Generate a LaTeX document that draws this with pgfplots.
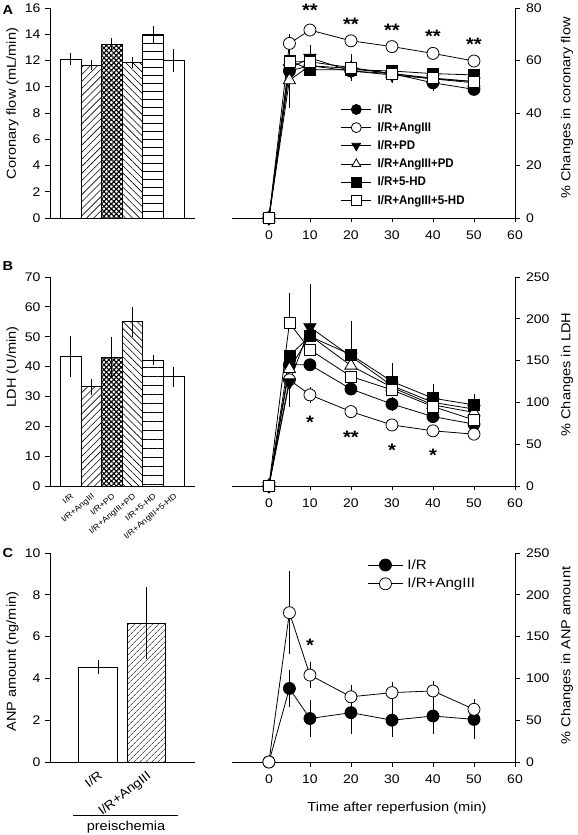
\documentclass[border=0pt]{standalone}
\usepackage{fontspec}
\setmainfont{Liberation Sans}[FakeStretch=1.12]
\newfontfamily\legfont{Liberation Sans}[FakeStretch=0.92]
\usepackage{pgfplots}
\pgfplotsset{compat=1.18}
\usetikzlibrary{patterns.meta}
\newcommand{\fs}[1]{\fontsize{#1}{#1}\selectfont}
\pgfplotsset{
  base/.style={scale only axis, clip=false,
    axis line style={line width=0.8pt},
    tick style={black, line width=0.8pt},
    tick align=outside, major tick length=5pt,
    /pgf/number format/assume math mode=true,
    tick label style={font=\fs{12.5}},
  },
  leftax/.style={base, axis x line*=bottom, axis y line*=left, width=145pt, every x tick/.style={draw=none},
    x axis line style={shorten <=-5pt}, yticklabel shift=1pt},
  rightax/.style={base, axis x line*=bottom, axis y line*=right, width=283pt, xmin=-9, xmax=60, xtick={0,10,...,60}, ymin=0,
    xticklabel shift=5pt, yticklabel shift=3pt, major tick length=4.5pt},
  lyl/.style={ylabel style={at={([xshift=-37.5pt]axis description cs:0,#1)}, anchor=center}},
  ryl/.style={ylabel style={at={([xshift=52pt]axis description cs:1,#1)}, anchor=center}},
  ebar/.style={mark=none, draw=none, forget plot, error bars/.cd, y dir=both, y explicit, error mark=none, error bar style={draw=black, solid, line width=0.8pt}},
  bars/.style={ybar, bar width=1, bar shift=0pt, draw=black, line width=0.8pt, forget plot},
  ln/.style={black, line width=0.8pt},
  fc/.style={ln, mark=*, mark size=6pt, mark options={fill=black}},
  oc/.style={ln, mark=*, mark size=6pt, mark options={fill=white}},
  ftd/.style={ln, mark=triangle*, mark size=7pt, mark options={fill=black, rotate=180}},
  otu/.style={ln, mark=triangle*, mark size=7pt, mark options={fill=white}},
  fsq/.style={ln, mark=square*, mark size=5.5pt, mark options={fill=black}},
  osq/.style={ln, mark=square*, mark size=5.5pt, mark options={fill=white}},
  legimgA/.style={legend image code/.code={\draw[mark repeat=2,mark phase=2,mark size=5pt,##1] plot coordinates {(0pt,0pt) (15pt,0pt) (30pt,0pt)};\path (34pt,0pt);}},
  legimgC/.style={legend image code/.code={\draw[mark repeat=2,mark phase=2,##1] plot coordinates {(0pt,0pt) (17.5pt,0pt) (35pt,0pt)};\path (37pt,0pt);}},
}
\newcommand{\lA}{\legfont\bfseries\fs{12.5}}
\newcommand{\lab}{\fs{13}}
\begin{document}
\begin{tikzpicture}
\path[use as bounding box] (0,0) rectangle (578pt,835pt);
\node[font=\bfseries\fs{13}] at (8pt,825pt) {A};
\node[font=\bfseries\fs{13}] at (8pt,569pt) {B};
\node[font=\bfseries\fs{13}] at (8pt,282pt) {C};
% ---------------- A left
\begin{axis}[leftax, at={(50pt,617pt)}, anchor=south west, height=210pt,
  xmin=0, xmax=7.03, ymin=0, ymax=16, ytick={0,2,...,16}, xtick=\empty,
  ylabel={\lab Coronary flow (mL/min)}, lyl=0.545]
\addplot[bars, fill=white] coordinates {(1,12.1)};
\addplot[bars, pattern={Lines[angle=45,distance=5pt,line width=0.6pt]}] coordinates {(2,11.65)};
\addplot[bars, pattern={Hatch[angle=45,distance=3.5pt,line width=1.1pt]}] coordinates {(3,13.25)};
\addplot[bars, pattern={Lines[angle=-45,distance=5pt,line width=0.6pt]}] coordinates {(4,11.85)};
\addplot[bars, pattern={Lines[angle=0,distance=8pt,line width=0.7pt]}] coordinates {(5,14.0)};
\addplot[bars, fill=white] coordinates {(6,12.0)};
\addplot[ebar] coordinates {(1,12.1)+-(0,0.45) (2,11.65)+-(0,0.35) (3,13.25)+-(0,0.5) (4,11.85)+-(0,0.45) (5,14.0)+-(0,0.65) (6,12.0)+-(0,0.85)};
\end{axis}
% ---------------- A right
\begin{axis}[rightax, at={(232pt,617pt)}, anchor=south west, height=210pt,
  ymax=80, ytick={0,20,...,80},
  ylabel={\lab\% Changes in coronary flow}, ryl=0.524, legimgA,
  legend style={at={(axis cs:17.5,44.2)}, anchor=north west, draw=none, fill=none, row sep=3.6pt, inner sep=0pt, cells={anchor=west}}]
\addplot[ebar] coordinates {(5,56)+-(0,14) (10,58)+-(0,4) (20,56)+-(0,3) (30,55)+-(0,3) (40,51.5)+-(0,3) (50,49)+-(0,2.5)};
\addplot[ebar] coordinates {(5,66.5)+-(0,3) (10,71.6)+-(0,2) (20,67.5)+-(0,2) (30,65.3)+-(0,2) (40,62.7)+-(0,2) (50,59.8)+-(0,2)};
\addplot[ebar] coordinates {(5,57)+-(0,4) (10,61)+-(0,5) (20,56)+-(0,3) (30,54.5)+-(0,3) (40,53)+-(0,3) (50,52)+-(0,3)};
\addplot[ebar] coordinates {(5,59.5)+-(0,4) (10,59.5)+-(0,3) (20,57.3)+-(0,5) (30,55)+-(0,3) (40,53.3)+-(0,3) (50,52)+-(0,3)};
\addplot[fc] coordinates {(0,0)(5,56)(10,58)(20,56)(30,55)(40,51.5)(50,49)};
\addlegendentry{\lA I/R}
\addplot[oc] coordinates {(0,0)(5,66.5)(10,71.6)(20,67.5)(30,65.3)(40,62.7)(50,59.8)};
\addlegendentry{\lA I/R+AngIII}
\addplot[ftd] coordinates {(0,0)(5,57)(10,61)(20,56)(30,54.5)(40,53)(50,52)};
\addlegendentry{\lA I/R+PD}
\addplot[otu] coordinates {(0,0)(5,52.5)(10,58)(20,57)(30,55)(40,53)(50,51.5)};
\addlegendentry{\lA I/R+AngIII+PD}
\addplot[fsq] coordinates {(0,0)(5,60)(10,56.5)(20,56.5)(30,56)(40,55)(50,54.5)};
\addlegendentry{\lA I/R+5-HD}
\addplot[osq] coordinates {(0,0)(5,59.5)(10,59.5)(20,57.3)(30,55)(40,53.3)(50,52)};
\addlegendentry{\lA I/R+AngIII+5-HD}
\node[font=\bfseries\fs{18}, anchor=base] at (axis cs:10,76.8) {**};
\node[font=\bfseries\fs{18}, anchor=base] at (axis cs:20,71.6) {**};
\node[font=\bfseries\fs{18}, anchor=base] at (axis cs:30,69.2) {**};
\node[font=\bfseries\fs{18}, anchor=base] at (axis cs:40,66.8) {**};
\node[font=\bfseries\fs{18}, anchor=base] at (axis cs:50,63.7) {**};
\end{axis}
% ---------------- B left
\begin{axis}[leftax, at={(50pt,349pt)}, anchor=south west, height=209pt,
  xmin=0, xmax=7.03, ymin=0, ymax=70, ytick={0,10,...,70},
  xtick={1,...,6}, xticklabels={I/R, I/R+AngIII, I/R+PD, I/R+AngIII+PD, I/R+5-HD, I/R+AngIII+5-HD},
  xticklabel style={rotate=40, anchor=north east, font=\fs{8}, inner sep=1pt},
  ylabel={\lab LDH (U/min)}, lyl=0.57]
\addplot[bars, fill=white] coordinates {(1,43.3)};
\addplot[bars, pattern={Lines[angle=45,distance=5pt,line width=0.6pt]}] coordinates {(2,33.2)};
\addplot[bars, pattern={Hatch[angle=45,distance=3.5pt,line width=1.1pt]}] coordinates {(3,43.1)};
\addplot[bars, pattern={Lines[angle=-45,distance=5pt,line width=0.6pt]}] coordinates {(4,55)};
\addplot[bars, pattern={Lines[angle=0,distance=9pt,line width=0.7pt]}] coordinates {(5,42.2)};
\addplot[bars, fill=white] coordinates {(6,36.6)};
\addplot[ebar] coordinates {(1,43.3)+-(0,6.8) (2,33.2)+-(0,2.8) (3,43.1)+-(0,6.7) (4,55)+-(0,5) (5,42.2)+-(0,1.7) (6,36.6)+-(0,3.4)};
\end{axis}
% ---------------- B right
\begin{axis}[rightax, at={(232pt,349pt)}, anchor=south west, height=209pt,
  ymax=250, ytick={0,50,...,250},
  ylabel={\lab\% Changes in LDH}, ryl=0.533]
\addplot[ebar] coordinates {(5,195)+=(0,36)-=(0,0) (5,124)+=(0,0)-=(0,30) (10,190)+=(0,52)-=(0,0) (20,157)+=(0,40)-=(0,0) (30,125)+=(0,22)-=(0,0) (40,105)+=(0,17)-=(0,0) (50,97)+=(0,13)-=(0,0)};
\addplot[ebar] coordinates {(10,109)+-(0,10) (20,116)+-(0,6) (30,98)+-(0,8) (40,83)+-(0,6)};
\addplot[fc] coordinates {(0,0)(5,145)(10,145)(20,116)(30,98)(40,83)(50,74)};
\addplot[oc] coordinates {(0,0)(5,127)(10,109)(20,89)(30,73)(40,66)(50,62)};
\addplot[ftd] coordinates {(0,0)(5,124)(10,190)(20,155)(30,120)(40,100)(50,92)};
\addplot[otu] coordinates {(0,0)(5,140)(10,180)(20,144)(30,118)(40,97)(50,88)};
\addplot[fsq] coordinates {(0,0)(5,156)(10,179)(20,157)(30,125)(40,105)(50,97)};
\addplot[osq] coordinates {(0,0)(5,195)(10,163)(20,131)(30,115)(40,95)(50,79)};
\node[font=\bfseries\fs{18}, anchor=base] at (axis cs:10,69) {*};
\node[font=\bfseries\fs{18}, anchor=base] at (axis cs:20,51) {**};
\node[font=\bfseries\fs{18}, anchor=base] at (axis cs:30,35) {*};
\node[font=\bfseries\fs{18}, anchor=base] at (axis cs:40,29) {*};
\end{axis}
% ---------------- C left
\begin{axis}[leftax, at={(50pt,73pt)}, anchor=south west, height=209pt,
  xmin=-0.247, xmax=3.52, ymin=0, ymax=10, ytick={0,2,...,10},
  xtick={1,2.26}, xticklabels={I/R, I/R+AngIII},
  xticklabel style={rotate=38, anchor=north east, font=\fs{12.5}, inner sep=2pt},
  ylabel={\lab ANP amount (ng/min)}, lyl=0.48]
\addplot[bars, fill=white] coordinates {(1,4.55)};
\addplot[bars, pattern={Lines[angle=45,distance=4pt,line width=0.6pt]}] coordinates {(2.26,6.65)};
\addplot[ebar] coordinates {(1,4.55)+-(0,0.35) (2.26,6.65)+-(0,1.72)};
\end{axis}
\draw[line width=0.8pt] (73pt,20pt) -- (178pt,20pt);
\node[font=\fs{13}] at (126pt,8pt) {preischemia};
% ---------------- C right
\begin{axis}[rightax, at={(232pt,73pt)}, anchor=south west, height=209pt,
  ymax=250, ytick={0,50,...,250},
  ylabel={\lab\% Changes in ANP amount}, ryl=0.51,
  xlabel={\lab Time after reperfusion (min)},
  xlabel style={at={(axis description cs:0.583,0)}, anchor=center, yshift=-46pt},
  legimgC,
  legend style={at={(axis cs:24,245)}, anchor=north west, draw=none, fill=none, row sep=3.5pt, inner sep=0pt, cells={anchor=west}}]
\addplot[ebar] coordinates {(5,178.6)+-(0,50) (10,104)+-(0,16) (20,78)+-(0,14) (30,83)+-(0,13) (40,85)+-(0,12) (50,63)+-(0,12)};
\addplot[ebar] coordinates {(5,88)+-(0,22) (10,52)+-(0,22) (20,59)+-(0,25) (30,50)+-(0,20) (40,55)+-(0,21) (50,51)+-(0,23)};
\addplot[fc] coordinates {(0,0)(5,88)(10,52)(20,59)(30,50)(40,55)(50,51)};
\addlegendentry{\fs{13.5}I/R}
\addplot[oc] coordinates {(0,0)(5,178.6)(10,104)(20,78)(30,83)(40,85)(50,63)};
\addlegendentry{\fs{13.5}I/R+AngIII}
\node[font=\bfseries\fs{18}, anchor=base] at (axis cs:10,132) {*};
\end{axis}
\end{tikzpicture}
\end{document}
